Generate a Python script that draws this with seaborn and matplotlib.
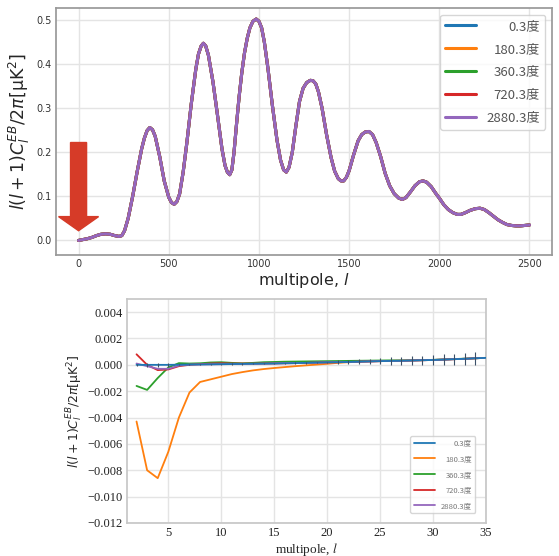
import numpy as np
import pandas as pd
import matplotlib.pyplot as plt
import seaborn as sns

# rotation angles of the five runs (legend labels)
angles = ['0.3度', '180.3度', '360.3度', '720.3度', '2880.3度']

# full range EB spectrum (all five runs coincide there)
ell = [0, 25, 50, 75, 100, 125, 150, 175, 200, 225, 240, 255, 275, 300, 325, 350, 365, 380,
       395, 410, 425, 450, 475, 500, 515, 530, 545, 560, 580, 600, 625, 650, 665, 680, 692,
       705, 720, 745, 770, 795, 812, 825, 838, 850, 862, 875, 890, 905, 920, 935, 950, 967,
       985, 1000, 1015, 1030, 1050, 1075, 1100, 1120, 1137, 1152, 1167, 1185, 1205, 1225,
       1245, 1265, 1285, 1300, 1315, 1330, 1350, 1375, 1400, 1420, 1440, 1455, 1470, 1485,
       1500, 1525, 1550, 1570, 1590, 1610, 1630, 1650, 1675, 1700, 1725, 1750, 1775, 1795,
       1815, 1840, 1865, 1890, 1910, 1930, 1955, 1980, 2000, 2025, 2050, 2075, 2100, 2120,
       2145, 2170, 2200, 2226, 2250, 2275, 2300, 2325, 2350, 2375, 2400, 2425, 2450, 2475, 2500]
cl_eb = [0.000, 0.002, 0.004, 0.007, 0.011, 0.014, 0.015, 0.014, 0.011, 0.009, 0.011, 0.022,
         0.050, 0.100, 0.156, 0.208, 0.232, 0.249, 0.256, 0.251, 0.236, 0.190, 0.135, 0.098,
         0.086, 0.082, 0.088, 0.105, 0.155, 0.220, 0.310, 0.388, 0.423, 0.441, 0.447, 0.441,
         0.420, 0.360, 0.285, 0.208, 0.170, 0.155, 0.149, 0.160, 0.200, 0.260, 0.325, 0.380,
         0.425, 0.458, 0.482, 0.497, 0.502, 0.497, 0.482, 0.450, 0.390, 0.305, 0.228, 0.182,
         0.160, 0.155, 0.166, 0.200, 0.260, 0.315, 0.345, 0.358, 0.363, 0.362, 0.355, 0.337,
         0.300, 0.240, 0.188, 0.157, 0.140, 0.135, 0.135, 0.143, 0.158, 0.194, 0.226, 0.240,
         0.246, 0.247, 0.240, 0.222, 0.190, 0.152, 0.124, 0.106, 0.096, 0.093, 0.097, 0.110,
         0.124, 0.133, 0.135, 0.132, 0.122, 0.107, 0.096, 0.081, 0.070, 0.063, 0.059, 0.059,
         0.063, 0.068, 0.072, 0.073, 0.070, 0.063, 0.055, 0.047, 0.041, 0.036, 0.034, 0.033,
         0.033, 0.034, 0.035]

# low multipoles, bottom panel
ell_low = list(range(2, 36))
low_003 = [0.0, 0.0, 0.0, 0.0, 0.00001, 0.00002, 0.00003, 0.00004, 0.00005, 0.00006,
           0.00007, 0.00008, 0.00009, 0.0001, 0.00012, 0.00013, 0.00015, 0.00017, 0.00019, 0.0002,
           0.00022, 0.00024, 0.00026, 0.00028, 0.0003, 0.00031, 0.00033, 0.00035, 0.00037, 0.0004,
           0.00043, 0.00046, 0.0005, 0.00053]
low_180 = [-0.0043, -0.0080, -0.0086, -0.0066, -0.0040, -0.0021, -0.0013, -0.0011, -0.0009, -0.0007,
           -0.00055, -0.00042, -0.00032, -0.00024, -0.00017, -0.0001, -0.00004, 0.00002, 0.00008, 0.00015,
           0.0002, 0.00023, 0.00026, 0.00028, 0.0003, 0.00031, 0.00033, 0.00035, 0.00037, 0.0004,
           0.00043, 0.00046, 0.0005, 0.00053]
low_360 = [-0.0016, -0.0019, -0.0010, -0.0002, 0.00013, 0.0001, 0.00012, 0.00018, 0.0002, 0.00015,
           0.00012, 0.00015, 0.0002, 0.00022, 0.00024, 0.00025, 0.00026, 0.00027, 0.00028, 0.00029,
           0.0003, 0.00031, 0.00032, 0.00033, 0.00034, 0.00034, 0.00035, 0.00036, 0.00038, 0.00041,
           0.00044, 0.00047, 0.0005, 0.00053]
low_720 = [0.0008, 0.0, -0.0004, -0.00035, -0.0001, 0.0, 0.00005, 0.0001, 0.00012, 0.0001,
           0.0001, 0.00009, 0.0001, 0.00011, 0.00012, 0.00013, 0.00015, 0.00017, 0.00019, 0.0002,
           0.00022, 0.00024, 0.00026, 0.00028, 0.0003, 0.00031, 0.00033, 0.00035, 0.00037, 0.0004,
           0.00043, 0.00046, 0.0005, 0.00053]
low_2880 = [0.0001, -0.0001, -0.0003, -0.0003, -0.00005, 0.00002, 0.00003, 0.00004, 0.00005, 0.00006,
            0.00007, 0.00008, 0.00009, 0.0001, 0.00012, 0.00013, 0.00015, 0.00017, 0.00019, 0.0002,
            0.00022, 0.00024, 0.00026, 0.00028, 0.0003, 0.00031, 0.00033, 0.00035, 0.00037, 0.0004,
            0.00043, 0.00046, 0.0005, 0.00053]
err_003 = [0.0001, 0.00015, 0.00015, 0.00015, 0.00005, 0.00005, 0.00005, 0.00005, 0.00005, 0.00005,
           0.00005, 0.00005, 0.00005, 0.00005, 0.00005, 0.00005, 0.00005, 0.00005, 0.00005, 0.00015,
           0.00017, 0.0002, 0.00022, 0.00025, 0.00028, 0.0003, 0.00032, 0.00035, 0.00038, 0.0004,
           0.00042, 0.00045, 0.00048, 0.0005]

sns.set_theme(style='whitegrid', rc={'grid.color': '#e4e4e4'})
plt.rcParams['font.family'] = ['DejaVu Sans', 'Noto Sans CJK JP']
colors = sns.color_palette('tab10', 5)
ylab = r'$l(l+1)C_l^{EB}/2\pi[\mathrm{μK}^2]$'

fig = plt.figure(figsize=(5.59, 5.56), dpi=100)

# ---- top panel: whole multipole range
ax1 = fig.add_axes([0.1002, 0.5414, 0.8873, 0.4442])
top = pd.DataFrame({'l': ell * 5, 'cl': cl_eb * 5,
                    'angle': np.repeat(angles, len(ell))})
sns.lineplot(data=top, x='l', y='cl', hue='angle', hue_order=angles,
             palette=colors, linewidth=2.2, errorbar=None, ax=ax1)
ax1.arrow(0, 0.222, 0, -0.2, width=89, head_width=222, head_length=0.032,
          length_includes_head=True, color='#d63b28', zorder=5)
ax1.set_xlim(-125, 2625)
ax1.set_ylim(-0.033, 0.527)
ax1.set_xticks([0, 500, 1000, 1500, 2000, 2500])
ax1.tick_params(labelsize=7, length=0, pad=3, labelcolor='#333')
ax1.set_xlabel('multipole, $l$', fontsize=11.5, labelpad=1)
ax1.set_ylabel(ylab, fontsize=12.5, labelpad=3)
for s in ax1.spines.values():
    s.set_color('.6')
h, lb = ax1.get_legend_handles_labels()
leg1 = ax1.legend(h, lb, loc='upper right', handlelength=2.3, labelspacing=0.75,
                  prop={'family': ['Noto Sans CJK JP'], 'size': 9.5}, labelcolor='#555')

# ---- bottom panel: low multipoles
ax2 = fig.add_axes([0.2272, 0.0594, 0.6422, 0.4029])
low = pd.DataFrame({'l': ell_low * 5,
                    'cl': low_003 + low_180 + low_360 + low_720 + low_2880,
                    'angle': np.repeat(angles, len(ell_low))})
sns.lineplot(data=low, x='l', y='cl', hue='angle', hue_order=angles,
             palette=colors, linewidth=1.3, errorbar=None, ax=ax2)
ax2.lines[0].set_zorder(3)
ax2.errorbar(ell_low, low_003, yerr=err_003, fmt='none', ecolor='#3b5068',
             elinewidth=0.8, zorder=6)
ax2.set_xlim(1.1, 35)
ax2.set_ylim(-0.012, 0.005)
ax2.set_xticks([5, 10, 15, 20, 25, 30, 35])
ax2.set_yticks(np.arange(-0.012, 0.0041, 0.002))
ax2.tick_params(labelsize=9, length=0, pad=3, labelfontfamily='Liberation Serif', labelcolor='#222')
ax2.set_xlabel('multipole, $l$', fontsize=9.5, fontfamily='Liberation Serif',
               math_fontfamily='stix', labelpad=1)
ax2.set_ylabel(ylab, fontsize=9, labelpad=2)
for s in ax2.spines.values():
    s.set_color('.78')
h, lb = ax2.get_legend_handles_labels()
leg2 = ax2.legend(h, lb, loc='lower right', bbox_to_anchor=(0.97, 0.045), borderaxespad=0,
                  handlelength=2.8, labelspacing=1.0,
                  prop={'family': ['Noto Sans CJK JP'], 'size': 5.5}, labelcolor='#777')

# right-align the legend labels like the original
fig.canvas.draw()
for leg in (leg1, leg2):
    texts = leg.get_texts()
    widths = [t.get_window_extent().width for t in texts]
    for t, w in zip(texts, widths):
        t.set_position((max(widths) - w, 0))

fig.savefig('out.png', dpi=100)
